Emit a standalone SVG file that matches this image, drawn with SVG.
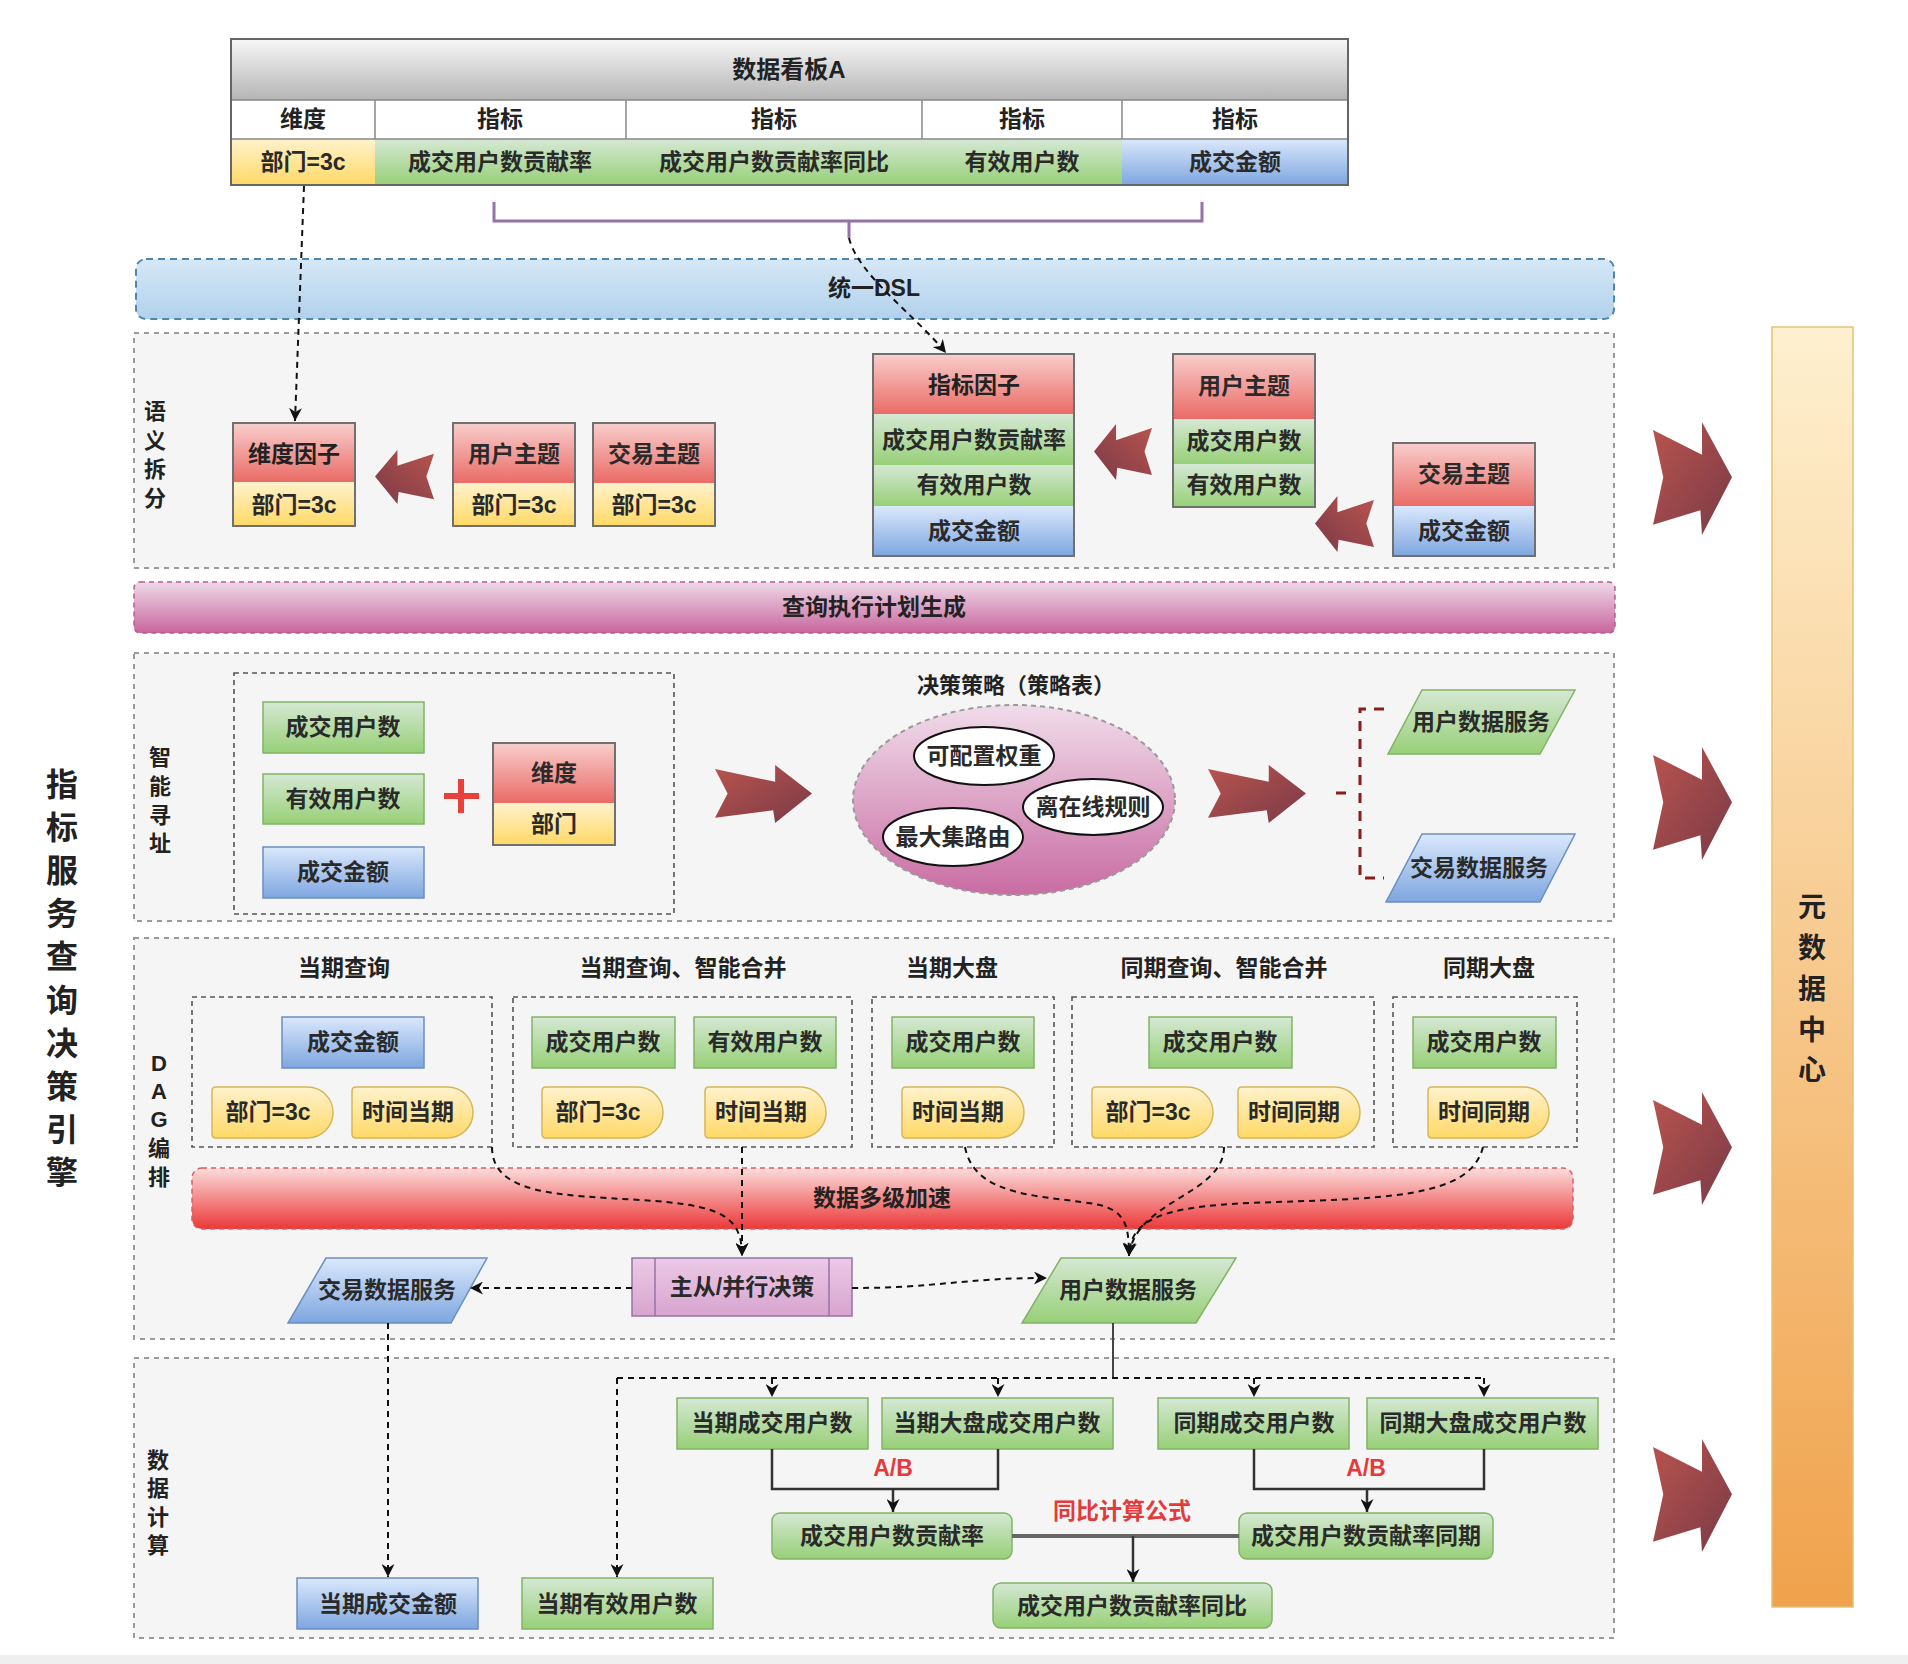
<svg xmlns="http://www.w3.org/2000/svg" width="1908" height="1664" viewBox="0 0 1908 1664">
<defs>
<linearGradient id="gGray" x1="0" y1="0" x2="0" y2="1"><stop offset="0" stop-color="#f7f7f7"/><stop offset="1" stop-color="#b5b5b5"/></linearGradient>
<linearGradient id="gRed" x1="0" y1="0" x2="0" y2="1"><stop offset="0" stop-color="#f8cecc"/><stop offset="1" stop-color="#ea6b66"/></linearGradient>
<linearGradient id="gYel" x1="0" y1="0" x2="0" y2="1"><stop offset="0" stop-color="#fff2cc"/><stop offset="1" stop-color="#ffd966"/></linearGradient>
<linearGradient id="gGrn" x1="0" y1="0" x2="0" y2="1"><stop offset="0" stop-color="#d5e8d4"/><stop offset="1" stop-color="#97d077"/></linearGradient>
<linearGradient id="gBlu" x1="0" y1="0" x2="0" y2="1"><stop offset="0" stop-color="#dae8fc"/><stop offset="1" stop-color="#7ea6e0"/></linearGradient>
<linearGradient id="gDsl" x1="0" y1="0" x2="0" y2="1"><stop offset="0" stop-color="#d6e8f7"/><stop offset="1" stop-color="#b2d1ec"/></linearGradient>
<linearGradient id="gPink" x1="0" y1="0" x2="0" y2="1"><stop offset="0" stop-color="#eed9e8"/><stop offset="1" stop-color="#c8669d"/></linearGradient>
<linearGradient id="gRband" x1="0" y1="0" x2="0" y2="1"><stop offset="0" stop-color="#fbdcdc"/><stop offset="1" stop-color="#ec3838"/></linearGradient>
<linearGradient id="gEll" x1="0" y1="0" x2="0" y2="1"><stop offset="0" stop-color="#f0dcea"/><stop offset="1" stop-color="#c96ca2"/></linearGradient>
<linearGradient id="gMeta" x1="0" y1="0" x2="0" y2="1"><stop offset="0" stop-color="#fef0cf"/><stop offset="1" stop-color="#f0a24c"/></linearGradient>
<linearGradient id="gPurp" x1="0" y1="0" x2="0" y2="1"><stop offset="0" stop-color="#eccae6"/><stop offset="1" stop-color="#d8a4cf"/></linearGradient>
<linearGradient id="gArr" x1="0" y1="0" x2="1" y2="1"><stop offset="0" stop-color="#b9544f"/><stop offset="1" stop-color="#7a3a46"/></linearGradient>
<marker id="ah" viewBox="0 0 10 10" refX="10" refY="5" markerWidth="13" markerHeight="13" markerUnits="userSpaceOnUse" orient="auto"><path d="M0,0 L10,5 L0,10 L3,5 Z" fill="#111"/></marker>
<path id="bigArrow" d="M0,7 L62,29 L62,0 L100,49 L62,100 L60,78 L0,91 L13,49 Z"/>
</defs>
<style>
text{font-family:"Liberation Sans","Noto Sans CJK SC",sans-serif;fill:#222;text-anchor:middle;dominant-baseline:central;}
.b{font-size:23px;font-weight:bold;}
.t{font-size:23px;font-weight:bold;fill:#2a2a2a;}
.lab{font-size:22px;font-weight:bold;}
.big{font-size:32px;font-weight:bold;}
.red{fill:#e5393b;font-size:23px;font-weight:bold;}
.sec{fill:#f5f5f5;stroke:#9a9a9a;stroke-width:2;stroke-dasharray:5 5;}
.inner{fill:none;stroke:#555;stroke-width:1.6;stroke-dasharray:5 4;}
.grn{fill:url(#gGrn);stroke:#82b366;stroke-width:1.5;}
.blu{fill:url(#gBlu);stroke:#6c8ebf;stroke-width:1.5;}
.yel{fill:url(#gYel);stroke:#d6b656;stroke-width:1.5;}
.redf{fill:url(#gRed);stroke:none;}
.box{fill:none;stroke:#707070;stroke-width:2;}
.dash{fill:none;stroke:#111;stroke-width:2;stroke-dasharray:6 5;marker-end:url(#ah);}
.solid{fill:none;stroke:#333;stroke-width:2.5;}
.arr{fill:url(#gArr);}
</style>
<rect x="0" y="0" width="1908" height="1664" fill="#ffffff"/>
<rect x="0" y="1655" width="1908" height="9" fill="#efefef"/>

<!-- big left label -->
<g id="engine-label">
<text class="big" x="62" y="785">指</text><text class="big" x="62" y="828">标</text><text class="big" x="62" y="871">服</text><text class="big" x="62" y="914">务</text><text class="big" x="62" y="957">查</text><text class="big" x="62" y="1001">询</text><text class="big" x="62" y="1044">决</text><text class="big" x="62" y="1087">策</text><text class="big" x="62" y="1130">引</text><text class="big" x="62" y="1173">擎</text>
</g>

<!-- data board table -->
<g id="board">
<rect x="231" y="39" width="1117" height="61" fill="url(#gGray)"/>
<rect x="231" y="100" width="1117" height="39" fill="#ffffff"/>
<rect x="231" y="139" width="144" height="46" fill="url(#gYel)"/>
<rect x="375" y="139" width="747" height="46" fill="url(#gGrn)"/>
<rect x="1122" y="139" width="226" height="46" fill="url(#gBlu)"/>
<path d="M231,100 H1348 M231,139 H1348 M375,100 V139 M626,100 V139 M922,100 V139 M1122,100 V139" stroke="#888" stroke-width="1.5" fill="none"/>
<rect x="231" y="39" width="1117" height="146" fill="none" stroke="#666" stroke-width="2"/>
<text class="b" x="789" y="69" style="font-size:24px">数据看板A</text>
<text class="b" x="303" y="119">维度</text><text class="b" x="500" y="119">指标</text><text class="b" x="774" y="119">指标</text><text class="b" x="1022" y="119">指标</text><text class="b" x="1235" y="119">指标</text>
<text class="t" x="303" y="162">部门=3c</text><text class="t" x="500" y="162">成交用户数贡献率</text><text class="t" x="774" y="162">成交用户数贡献率同比</text><text class="t" x="1022" y="162">有效用户数</text><text class="t" x="1235" y="162">成交金额</text>
</g>

<!-- DSL band -->
<g id="dsl">
<rect x="136" y="259" width="1478" height="60" rx="10" fill="url(#gDsl)" stroke="#4f86b0" stroke-width="2" stroke-dasharray="7 5"/>
<text class="b" x="874" y="288">统一DSL</text>
</g>

<!-- section 1 -->
<g id="sec-semantic">
<rect class="sec" x="134" y="333" width="1480" height="235"/>
<text class="lab" x="155" y="411">语</text><text class="lab" x="155" y="440">义</text><text class="lab" x="155" y="469">拆</text><text class="lab" x="155" y="498">分</text>
</g>
<g id="dim-factor">
<rect class="redf" x="233" y="423" width="122" height="59"/><rect x="233" y="482" width="122" height="44" fill="url(#gYel)"/>
<rect class="box" x="233" y="423" width="122" height="103"/>
<text class="b" x="294" y="454">维度因子</text><text class="t" x="294" y="505">部门=3c</text>
</g>
<g id="user-topic-1">
<rect class="redf" x="453" y="423" width="122" height="60"/><rect x="453" y="483" width="122" height="43" fill="url(#gYel)"/>
<rect class="box" x="453" y="423" width="122" height="103"/>
<text class="t" x="514" y="454">用户主题</text><text class="t" x="514" y="505">部门=3c</text>
</g>
<g id="trade-topic-1">
<rect class="redf" x="593" y="423" width="122" height="60"/><rect x="593" y="483" width="122" height="43" fill="url(#gYel)"/>
<rect class="box" x="593" y="423" width="122" height="103"/>
<text class="t" x="654" y="454">交易主题</text><text class="t" x="654" y="505">部门=3c</text>
</g>
<g id="metric-factor">
<rect class="redf" x="873" y="354" width="201" height="60"/>
<rect x="873" y="414" width="201" height="51" fill="url(#gGrn)"/>
<rect x="873" y="465" width="201" height="41" fill="url(#gGrn)"/>
<rect x="873" y="506" width="201" height="50" fill="url(#gBlu)"/>
<rect class="box" x="873" y="354" width="201" height="202"/>
<text class="b" x="974" y="385">指标因子</text><text class="t" x="974" y="440">成交用户数贡献率</text><text class="t" x="974" y="485">有效用户数</text><text class="t" x="974" y="531">成交金额</text>
</g>
<g id="user-topic-2">
<rect class="redf" x="1173" y="354" width="142" height="65"/>
<rect x="1173" y="419" width="142" height="45" fill="url(#gGrn)"/>
<rect x="1173" y="464" width="142" height="43" fill="url(#gGrn)"/>
<rect class="box" x="1173" y="354" width="142" height="153"/>
<text class="t" x="1244" y="386">用户主题</text><text class="t" x="1244" y="441">成交用户数</text><text class="t" x="1244" y="485">有效用户数</text>
</g>
<g id="trade-topic-2">
<rect class="redf" x="1393" y="443" width="142" height="63"/>
<rect x="1393" y="506" width="142" height="50" fill="url(#gBlu)"/>
<rect class="box" x="1393" y="443" width="142" height="113"/>
<text class="t" x="1464" y="474">交易主题</text><text class="t" x="1464" y="531">成交金额</text>
</g>

<!-- query plan band -->
<g id="plan">
<rect x="134" y="582" width="1481" height="51" rx="6" fill="url(#gPink)" stroke="#b85a8e" stroke-width="1.5" stroke-dasharray="5 4"/>
<text class="b" x="874" y="607">查询执行计划生成</text>
</g>

<!-- section 2 -->
<g id="sec-addressing">
<rect class="sec" x="134" y="653" width="1480" height="268"/>
<text class="lab" x="160" y="757">智</text><text class="lab" x="160" y="786">能</text><text class="lab" x="160" y="815">寻</text><text class="lab" x="160" y="843">址</text>
<rect class="inner" x="234" y="673" width="440" height="241"/>
</g>
<g id="addr-deal-users"><rect class="grn" x="263" y="702" width="161" height="51"/><text class="t" x="343" y="727">成交用户数</text></g>
<g id="addr-valid-users"><rect class="grn" x="263" y="774" width="161" height="50"/><text class="t" x="343" y="799">有效用户数</text></g>
<g id="addr-amount"><rect class="blu" x="263" y="847" width="161" height="51"/><text class="t" x="343" y="872">成交金额</text></g>
<g id="plus"><path d="M444,796 H479 M461,779 V813" stroke="#e8403a" stroke-width="6" fill="none"/></g>
<g id="addr-dim">
<rect class="redf" x="493" y="743" width="122" height="60"/><rect x="493" y="803" width="122" height="42" fill="url(#gYel)"/>
<rect class="box" x="493" y="743" width="122" height="102"/>
<text class="t" x="554" y="773">维度</text><text class="t" x="554" y="824">部门</text>
</g>
<g id="strategy">
<text class="lab" x="1016" y="685">决策策略（策略表）</text>
<ellipse cx="1014" cy="800" rx="161" ry="95" fill="url(#gEll)" stroke="#9a9a9a" stroke-width="2" stroke-dasharray="5 4"/>
<ellipse cx="984" cy="756" rx="70" ry="29" fill="#fff" stroke="#111" stroke-width="2"/>
<text class="t" x="984" y="756">可配置权重</text>
<ellipse cx="1093" cy="807" rx="70" ry="28" fill="#fff" stroke="#111" stroke-width="2"/>
<text class="t" x="1093" y="807">离在线规则</text>
<ellipse cx="953" cy="837" rx="70" ry="29" fill="#fff" stroke="#111" stroke-width="2"/>
<text class="t" x="953" y="837">最大集路由</text>
</g>
<g id="addr-user-svc">
<polygon class="grn" points="1422,690 1575,690 1540,754 1388,754"/>
<text class="t" x="1481" y="722">用户数据服务</text>
</g>
<g id="addr-trade-svc">
<polygon class="blu" points="1422,834 1575,834 1540,902 1386,902"/>
<text class="t" x="1479" y="868">交易数据服务</text>
</g>

<!-- section 3 DAG -->
<g id="sec-dag">
<rect class="sec" x="134" y="938" width="1480" height="401"/>
<text class="lab" x="159" y="1063">D</text><text class="lab" x="159" y="1091">A</text><text class="lab" x="159" y="1119">G</text><text class="lab" x="159" y="1148">编</text><text class="lab" x="159" y="1177">排</text>
<text class="b" x="344" y="968">当期查询</text>
<text class="b" x="683" y="968">当期查询、智能合并</text>
<text class="b" x="952" y="968">当期大盘</text>
<text class="b" x="1224" y="968">同期查询、智能合并</text>
<text class="b" x="1489" y="968">同期大盘</text>
</g>
<g id="dag-g1">
<rect class="inner" x="192" y="997" width="300" height="150"/>
<rect class="blu" x="282" y="1017" width="142" height="51"/><text class="t" x="353" y="1042">成交金额</text>
<path class="yel" d="M216,1087 H307.5 A25.5,25.5 0 0 1 307.5,1138 H216 Q212,1138 212,1134 V1091 Q212,1087 216,1087 Z"/><text class="t" x="268" y="1112">部门=3c</text>
<path class="yel" d="M356,1087 H447.5 A25.5,25.5 0 0 1 447.5,1138 H356 Q352,1138 352,1134 V1091 Q352,1087 356,1087 Z"/><text class="t" x="408" y="1112">时间当期</text>
</g>
<g id="dag-g2">
<rect class="inner" x="513" y="997" width="339" height="150"/>
<rect class="grn" x="532" y="1017" width="143" height="51"/><text class="t" x="603" y="1042">成交用户数</text>
<rect class="grn" x="694" y="1017" width="142" height="51"/><text class="t" x="765" y="1042">有效用户数</text>
<path class="yel" d="M546,1087 H637.5 A25.5,25.5 0 0 1 637.5,1138 H546 Q542,1138 542,1134 V1091 Q542,1087 546,1087 Z"/><text class="t" x="598" y="1112">部门=3c</text>
<path class="yel" d="M709,1087 H800.5 A25.5,25.5 0 0 1 800.5,1138 H709 Q705,1138 705,1134 V1091 Q705,1087 709,1087 Z"/><text class="t" x="761" y="1112">时间当期</text>
</g>
<g id="dag-g3">
<rect class="inner" x="872" y="997" width="182" height="150"/>
<rect class="grn" x="892" y="1017" width="142" height="51"/><text class="t" x="963" y="1042">成交用户数</text>
<path class="yel" d="M906,1087 H998.5 A25.5,25.5 0 0 1 998.5,1138 H906 Q902,1138 902,1134 V1091 Q902,1087 906,1087 Z"/><text class="t" x="958" y="1112">时间当期</text>
</g>
<g id="dag-g4">
<rect class="inner" x="1072" y="997" width="302" height="150"/>
<rect class="grn" x="1149" y="1017" width="143" height="51"/><text class="t" x="1220" y="1042">成交用户数</text>
<path class="yel" d="M1096,1087 H1187.5 A25.5,25.5 0 0 1 1187.5,1138 H1096 Q1092,1138 1092,1134 V1091 Q1092,1087 1096,1087 Z"/><text class="t" x="1148" y="1112">部门=3c</text>
<path class="yel" d="M1242,1087 H1334.5 A25.5,25.5 0 0 1 1334.5,1138 H1242 Q1238,1138 1238,1134 V1091 Q1238,1087 1242,1087 Z"/><text class="t" x="1294" y="1112">时间同期</text>
</g>
<g id="dag-g5">
<rect class="inner" x="1393" y="997" width="184" height="150"/>
<rect class="grn" x="1413" y="1017" width="143" height="51"/><text class="t" x="1484" y="1042">成交用户数</text>
<path class="yel" d="M1432,1087 H1523.5 A25.5,25.5 0 0 1 1523.5,1138 H1432 Q1428,1138 1428,1134 V1091 Q1428,1087 1432,1087 Z"/><text class="t" x="1484" y="1112">时间同期</text>
</g>
<g id="accel">
<rect x="192" y="1168" width="1381" height="61" rx="10" fill="url(#gRband)" stroke="#d86060" stroke-width="1.5" stroke-dasharray="5 4"/>
<text class="b" x="882" y="1198">数据多级加速</text>
</g>
<g id="master-slave">
<rect x="632" y="1258" width="220" height="58" fill="url(#gPurp)" stroke="#9673a6" stroke-width="1.5"/>
<path d="M655,1258 V1316 M829,1258 V1316" stroke="#9673a6" stroke-width="1.5"/>
<text class="t" x="742" y="1287">主从/并行决策</text>
</g>
<g id="dag-trade-svc">
<polygon class="blu" points="326,1258 487,1258 451,1323 288,1323"/>
<text class="t" x="387" y="1290">交易数据服务</text>
</g>
<g id="dag-user-svc">
<polygon class="grn" points="1061,1258 1236,1258 1196,1323 1022,1323"/>
<text class="t" x="1128" y="1290">用户数据服务</text>
</g>

<!-- section 4 -->
<g id="sec-compute">
<rect class="sec" x="134" y="1358" width="1480" height="280"/>
<text class="lab" x="158" y="1460">数</text><text class="lab" x="158" y="1488">据</text><text class="lab" x="158" y="1517">计</text><text class="lab" x="158" y="1545">算</text>
</g>
<g id="c-cur-deal"><rect class="grn" x="677" y="1398" width="191" height="51"/><text class="t" x="772" y="1423">当期成交用户数</text></g>
<g id="c-cur-all"><rect class="grn" x="882" y="1398" width="231" height="51"/><text class="t" x="997" y="1423">当期大盘成交用户数</text></g>
<g id="c-yoy-deal"><rect class="grn" x="1158" y="1398" width="191" height="51"/><text class="t" x="1254" y="1423">同期成交用户数</text></g>
<g id="c-yoy-all"><rect class="grn" x="1367" y="1398" width="231" height="51"/><text class="t" x="1483" y="1423">同期大盘成交用户数</text></g>
<g id="c-rate"><rect class="grn" x="772" y="1513" width="240" height="46" rx="8"/><text class="t" x="892" y="1536">成交用户数贡献率</text></g>
<g id="c-rate-yoy"><rect class="grn" x="1239" y="1513" width="254" height="46" rx="8"/><text class="t" x="1366" y="1536">成交用户数贡献率同期</text></g>
<g id="c-rate-cmp"><rect class="grn" x="993" y="1583" width="279" height="45" rx="8"/><text class="t" x="1132" y="1606">成交用户数贡献率同比</text></g>
<g id="c-amount"><rect class="blu" x="297" y="1578" width="181" height="51"/><text class="t" x="388" y="1604">当期成交金额</text></g>
<g id="c-valid"><rect class="grn" x="522" y="1578" width="191" height="51"/><text class="t" x="617" y="1604">当期有效用户数</text></g>

<!-- meta data center -->
<g id="meta">
<rect x="1772" y="327" width="81" height="1280" fill="url(#gMeta)" stroke="#e3c27a" stroke-width="1.5"/>
<text class="b" x="1812" y="907" style="font-size:28px">元</text><text class="b" x="1812" y="948" style="font-size:28px">数</text><text class="b" x="1812" y="989" style="font-size:28px">据</text><text class="b" x="1812" y="1030" style="font-size:28px">中</text><text class="b" x="1812" y="1070" style="font-size:28px">心</text>
</g>

<!-- block arrows -->
<g id="block-arrows">
<use href="#bigArrow" class="arr" transform="translate(434,450) scale(-0.59,0.54)"/>
<use href="#bigArrow" class="arr" transform="translate(1152,424) scale(-0.58,0.56)"/>
<use href="#bigArrow" class="arr" transform="translate(1374,496) scale(-0.59,0.56)"/>
<use href="#bigArrow" class="arr" transform="translate(715,765) scale(0.97,0.58)"/>
<use href="#bigArrow" class="arr" transform="translate(1208,765) scale(0.98,0.58)"/>
<use href="#bigArrow" class="arr" transform="translate(1653,422) scale(0.79,1.13)"/>
<use href="#bigArrow" class="arr" transform="translate(1653,747) scale(0.79,1.13)"/>
<use href="#bigArrow" class="arr" transform="translate(1653,1092) scale(0.79,1.13)"/>
<use href="#bigArrow" class="arr" transform="translate(1653,1439) scale(0.79,1.13)"/>
</g>

<!-- connectors -->
<g id="connectors">
<path d="M494,202 V221 H1202 V202 M849,221 V238" fill="none" stroke="#9673a6" stroke-width="3"/>
<path class="dash" d="M304,186 L295,421"/>
<path class="dash" d="M849,238 C858,275 915,315 946,353"/>
<path d="M1384,709 H1360 V878 H1384 M1336,793 H1352" fill="none" stroke="#8b1c1c" stroke-width="3" stroke-dasharray="10 8"/>
<path class="dash" d="M492,1147 C492,1195 560,1195 640,1200 C720,1205 742,1215 742,1256"/>
<path class="dash" d="M742,1147 V1256"/>
<path class="dash" d="M632,1288 H470"/>
<path class="dash" d="M852,1288 C940,1288 960,1278 1047,1278"/>
<path class="dash" d="M965,1147 C975,1200 1050,1195 1100,1205 C1125,1212 1129,1225 1129,1256"/>
<path class="dash" d="M1224,1147 C1224,1195 1135,1200 1129,1256"/>
<path class="dash" d="M1483,1147 C1470,1200 1380,1198 1250,1203 C1160,1207 1130,1220 1129,1256"/>
<path class="dash" d="M388,1323 V1577"/>
<path d="M1113,1323 V1378" fill="none" stroke="#444" stroke-width="2"/>
<path d="M617,1378 H1485" fill="none" stroke="#111" stroke-width="2" stroke-dasharray="6 5"/>
<path class="dash" d="M617,1378 V1577"/>
<path class="dash" d="M772,1378 V1397"/>
<path class="dash" d="M998,1378 V1397"/>
<path class="dash" d="M1254,1378 V1397"/>
<path class="dash" d="M1484,1378 V1397"/>
<path class="solid" d="M772,1449 V1489 H998 V1449"/>
<path class="solid" d="M893,1489 V1512" marker-end="url(#ah)"/>
<path class="solid" d="M1254,1449 V1489 H1484 V1449"/>
<path class="solid" d="M1367,1489 V1512" marker-end="url(#ah)"/>
<path d="M1012,1536 H1239" fill="none" stroke="#666" stroke-width="4"/>
<path class="solid" d="M1133,1536 V1582" marker-end="url(#ah)"/>
<text class="red" x="893" y="1468">A/B</text>
<text class="red" x="1366" y="1468">A/B</text>
<text class="red" x="1122" y="1511">同比计算公式</text>
</g>
</svg>
